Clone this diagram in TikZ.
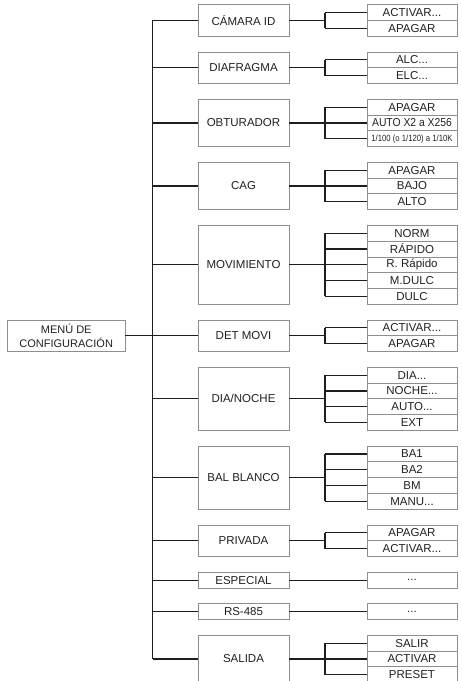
\documentclass[tikz,border=0pt]{standalone}
\usepackage{fontspec}
\setmainfont{Liberation Sans}
\begin{document}
\begin{tikzpicture}[x={(1pt,0pt)},y={(0pt,-15.765pt)},
  boxc/.style={draw=boxgray,line width=0.8pt,inner sep=0pt,text=txt,font=\fontsize{11.5}{13}\selectfont,align=center},
  midbox/.style={boxc,minimum width=91pt},
  item/.style={boxc,minimum width=90pt,minimum height=15.765pt},
  conn/.style={draw=lin,line width=1.2pt}]
\definecolor{boxgray}{HTML}{8E8E8E}
\definecolor{lin}{HTML}{1E1E1E}
\definecolor{txt}{HTML}{202020}
\useasboundingbox (0pt,0pt) rectangle (462pt,-681pt);
\clip (0pt,0pt) rectangle (462pt,-681pt);
\coordinate (T) at (152.7,0);
\coordinate (J) at (325,0);
% menu
\node[boxc,font=\fontsize{11}{14}\selectfont,minimum width=117.7pt,minimum height=31.53pt] (menu) at (66.2,21.298) {MENÚ DE\\CONFIGURACIÓN};
% middle boxes
\node[midbox,minimum height=31.53pt] (cam) at (243.5,1.298) {CÁMARA ID};
\node[midbox,minimum height=31.53pt] (dia) at (243.5,4.298) {DIAFRAGMA};
\node[midbox,minimum height=47.295pt] (obt) at (243.5,7.798) {OBTURADOR};
\node[midbox,minimum height=47.295pt] (cag) at (243.5,11.798) {CAG};
\node[midbox,minimum height=78.825pt] (mov) at (243.5,16.798) {MOVIMIENTO};
\node[midbox,minimum height=31.53pt] (det) at (243.5,21.298) {DET MOVI};
\node[midbox,minimum height=63.06pt] (dn) at (243.5,25.298) {DIA/NOCHE};
\node[midbox,minimum height=63.06pt] (bal) at (243.5,30.298) {BAL BLANCO};
\node[midbox,minimum height=31.53pt] (pri) at (243.5,34.298) {PRIVADA};
\node[midbox,minimum height=15.765pt] (esp) at (243.5,36.798) {ESPECIAL};
\node[midbox,minimum height=15.765pt] (rs) at (243.5,38.798) {RS-485};
\node[midbox,minimum height=47.295pt] (sal) at (243.5,41.798) {SALIDA};
% right items
\node[item] (cam1) at (412,0.798) {ACTIVAR...};
\node[item] (cam2) at (412,1.798) {APAGAR};
\node[item] (dia1) at (412,3.798) {ALC...};
\node[item] (dia2) at (412,4.798) {ELC...};
\node[item] (obt1) at (412,6.798) {APAGAR};
\node[item] (obt2) at (412,7.798) {\scalebox{0.9}[1]{AUTO X2 a X256}};
\node[item] (obt3) at (412,8.798) {\scalebox{0.86}[1]{\fontsize{9}{10}\selectfont 1/100 (o 1/120) a 1/10K}};
\node[item] (cag1) at (412,10.798) {APAGAR};
\node[item] (cag2) at (412,11.798) {BAJO};
\node[item] (cag3) at (412,12.798) {ALTO};
\node[item] (mov1) at (412,14.798) {NORM};
\node[item] (mov2) at (412,15.798) {RÁPIDO};
\node[item] (mov3) at (412,16.798) {R. Rápido};
\node[item] (mov4) at (412,17.798) {M.DULC};
\node[item] (mov5) at (412,18.798) {DULC};
\node[item] (det1) at (412,20.798) {ACTIVAR...};
\node[item] (det2) at (412,21.798) {APAGAR};
\node[item] (dn1) at (412,23.798) {DIA...};
\node[item] (dn2) at (412,24.798) {NOCHE...};
\node[item] (dn3) at (412,25.798) {AUTO...};
\node[item] (dn4) at (412,26.798) {EXT};
\node[item] (bal1) at (412,28.798) {BA1};
\node[item] (bal2) at (412,29.798) {BA2};
\node[item] (bal3) at (412,30.798) {BM};
\node[item] (bal4) at (412,31.798) {MANU...};
\node[item] (pri1) at (412,33.798) {APAGAR};
\node[item] (pri2) at (412,34.798) {ACTIVAR...};
\node[item] (esp1) at (412,36.798) {...};
\node[item] (rs1) at (412,38.798) {...};
\node[item] (sal1) at (412,40.798) {SALIR};
\node[item] (sal2) at (412,41.798) {ACTIVAR};
\node[item] (sal3) at (412,42.798) {PRESET};
% trunk
\draw[conn] (T |- cam.west) -- (T |- sal.west);
\draw[conn] (menu.east) -- (T |- menu.east);
\foreach \g in {cam,dia,obt,cag,mov,det,dn,bal,pri,esp,rs,sal}
  \draw[conn] (T |- \g.west) -- (\g.west);
% sub connectors
\foreach \g/\n in {cam/2,dia/2,obt/3,cag/3,mov/5,det/2,dn/4,bal/4,pri/2,sal/3}{
  \draw[conn] (\g.east) -- (\g.east -| J);
  \draw[conn] (\g1.west -| J) -- (\g\n.west -| J);
  \foreach \i in {1,...,\n}
    \draw[conn] (\g\i.west -| J) -- (\g\i.west);
}
\draw[conn] (esp.east) -- (esp1.west);
\draw[conn] (rs.east) -- (rs1.west);
\end{tikzpicture}
\end{document}
